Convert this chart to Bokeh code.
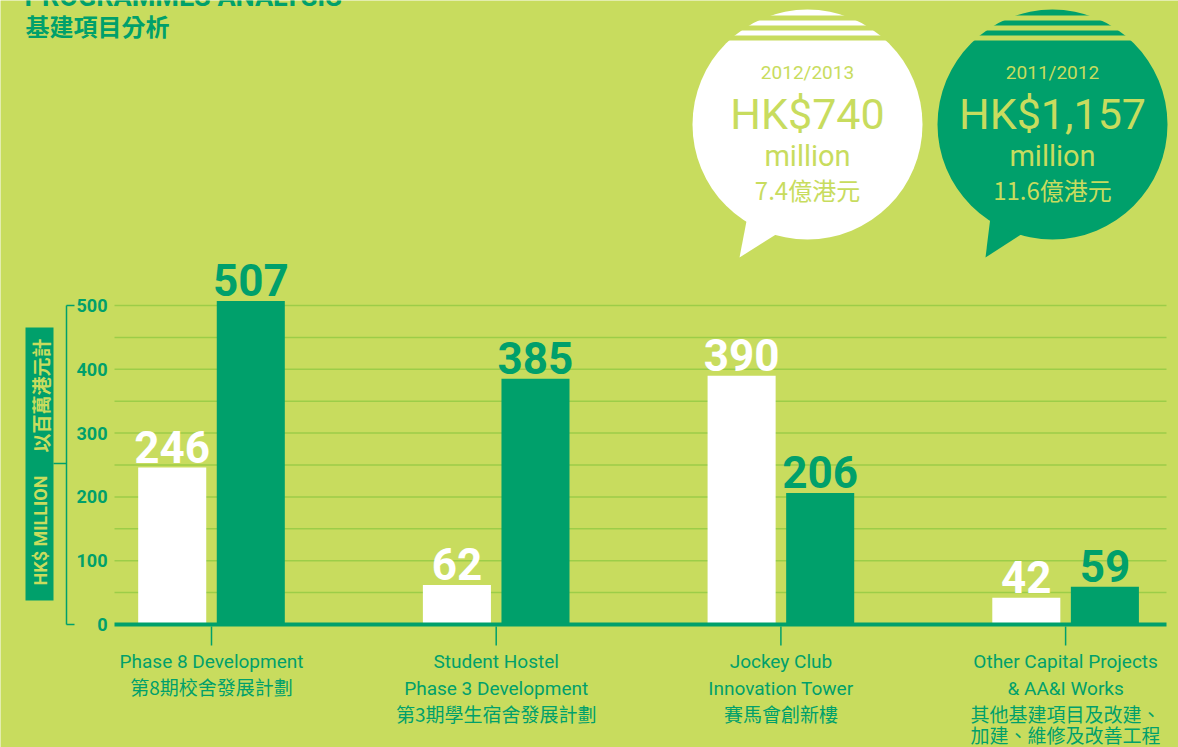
import numpy as np
from bokeh.plotting import figure
from bokeh.models import Range1d
from bokeh.core.properties import value
from bokeh.embed import file_html
from bokeh.resources import INLINE

# ---------------- data ----------------
categories = ["Phase 8 Development", "Student Hostel Phase 3 Development",
              "Jockey Club Innovation Tower", "Other Capital Projects & AA&I Works"]
cat_en = [["Phase 8 Development"],
          ["Student Hostel", "Phase 3 Development"],
          ["Jockey Club", "Innovation Tower"],
          ["Other Capital Projects", "& AA&I Works"]]
cat_zh = [["第8期校舍發展計劃"],
          ["第3期學生宿舍發展計劃"],
          ["賽馬會創新樓"],
          ["其他基建項目及改建、", "加建、維修及改善工程"]]
values_2012_13 = [246, 62, 390, 42]
values_2011_12 = [507, 385, 206, 59]
y_ticks = [0, 100, 200, 300, 400, 500]
grid_values = [50, 100, 150, 200, 250, 300, 350, 400, 450, 500]
totals = {"2012/2013": ("HK$740", "7.4億港元"), "2011/2012": ("HK$1,157", "11.6億港元")}

# ---------------- style ----------------
BG = "#c8dc5e"
GREEN = "#00a06b"
GRID = "#9ccd48"
WHITE = "#ffffff"
FONT = "Roboto"
CJK = "Noto Sans CJK TC"

W, H = 1178, 747
# pixel helpers (layout only)
XS, X0 = 284.7, 211.0
YS, Y0 = 0.638, 624.0
def dx(px): return (px - X0) / XS
def dy(py): return (Y0 - py) / YS

p = figure(width=W, height=H, x_range=Range1d(dx(0), dx(W)),
           y_range=Range1d(dy(H), dy(0)), output_backend="svg",
           toolbar_location=None, min_border=0)
p.axis.visible = False
p.grid.visible = False
p.outline_line_color = None
p.background_fill_color = BG
p.border_fill_color = BG

idx = np.arange(len(categories))
off = 0.138
bw = 0.239

# gridlines
p.segment(x0=[dx(114)] * len(grid_values), x1=[dx(1166)] * len(grid_values),
          y0=grid_values, y1=grid_values, line_color=GRID, line_width=1.5)

# bars
p.vbar(x=idx - off, top=values_2012_13, width=bw, bottom=0, fill_color=WHITE, line_color=None)
p.vbar(x=idx + off, top=values_2011_12, width=bw, bottom=0, fill_color=GREEN, line_color=None)

# baseline
p.segment(x0=[dx(114)], x1=[dx(1166)], y0=[0], y1=[0], line_color=GREEN, line_width=4)

# category ticks
p.segment(x0=idx, x1=idx, y0=[dy(626)] * 4, y1=[dy(645)] * 4, line_color=GREEN, line_width=1.5)

# value labels
lab_off = 5 / YS
p.text(x=idx - off, y=[v + lab_off for v in values_2012_13], text=[str(v) for v in values_2012_13],
       text_align="center", text_baseline="bottom", text_color=WHITE,
       text_font=value(FONT), text_font_size="44px", text_font_style="bold")
p.text(x=idx + off, y=[v + lab_off for v in values_2011_12], text=[str(v) for v in values_2011_12],
       text_align="center", text_baseline="bottom", text_color=GREEN,
       text_font=value(FONT), text_font_size="44px", text_font_style="bold")

# y tick labels
p.text(x=[dx(107)] * len(y_ticks), y=y_ticks, text=[str(t) for t in y_ticks],
       text_align="right", text_baseline="middle", text_color=GREEN,
       text_font=value(FONT), text_font_size="18px", text_font_style="bold")

# bracket
p.segment(x0=[dx(66), dx(66), dx(66), dx(53)], x1=[dx(66), dx(74), dx(74), dx(66)],
          y0=[dy(305), dy(305), dy(624), dy(463)], y1=[dy(624), dy(305), dy(624), dy(463)],
          line_color=GREEN, line_width=1.5)
# axis title box
p.quad(left=[dx(25)], right=[dx(53)], top=[dy(327)], bottom=[dy(600)], fill_color=GREEN, line_color=None)
p.text(x=[dx(40)], y=[dy(530)], text=["HK$ MILLION"],
       angle=np.pi / 2, text_align="center", text_baseline="middle", text_color=BG,
       text_font=value(FONT), text_font_size="18px", text_font_style="bold")
p.text(x=[dx(40)], y=[dy(395)], text=["以百萬港元計"],
       angle=np.pi / 2, text_align="center", text_baseline="middle", text_color=BG,
       text_font=value(CJK), text_font_size="19px", text_font_style="bold")

# category labels
for i in range(len(categories)):
    ys_en, ys_zh = [], []
    yy = 661
    for t in cat_en[i]:
        ys_en.append(yy)
        yy += 27
    yy = ys_en[-1] + 25
    for t in cat_zh[i]:
        ys_zh.append(yy)
        yy += 21
    p.text(x=[i] * len(ys_en), y=[dy(v) for v in ys_en], text=cat_en[i],
           text_align="center", text_baseline="middle", text_color=GREEN,
           text_font=value(FONT), text_font_size="19px")
    p.text(x=[i] * len(ys_zh), y=[dy(v) for v in ys_zh], text=cat_zh[i],
           text_align="center", text_baseline="middle", text_color=GREEN,
           text_font=value(CJK), text_font_size="19px")

# speech bubbles
bubbles = [("2012/2013", 807, WHITE, [(750, 200), (739, 257), (785, 228)]),
           ("2011/2012", 1052, GREEN, [(992, 200), (985, 257), (1030, 228)])]
for year, cx, col, tail in bubbles:
    p.patch(x=[dx(a) for a, b in tail], y=[dy(b) for a, b in tail], fill_color=col, line_color=None)
    p.scatter(x=[dx(cx)], y=[dy(124)], size=230, marker="circle", fill_color=col, line_color=None)
    p.quad(left=[dx(cx - 120)] * 3, right=[dx(cx + 120)] * 3,
           top=[dy(15), dy(25), dy(35)], bottom=[dy(20), dy(30), dy(40)],
           fill_color=BG, line_color=None)
    amount, zh = totals[year]
    p.text(x=[dx(cx)], y=[dy(72)], text=[year], text_align="center", text_baseline="middle",
           text_color=BG, text_font=value(FONT), text_font_size="19px")
    p.text(x=[dx(cx)], y=[dy(113)], text=[amount], text_align="center", text_baseline="middle",
           text_color=BG, text_font=value(FONT), text_font_size="43px")
    p.text(x=[dx(cx)], y=[dy(155)], text=["million"], text_align="center", text_baseline="middle",
           text_color=BG, text_font=value(FONT), text_font_size="29px")
    p.text(x=[dx(cx)], y=[dy(189)], text=[zh], text_align="center", text_baseline="middle",
           text_color=BG, text_font=value(CJK), text_font_size="24px")

# title
p.text(x=[dx(24)], y=[dy(-4)], text=["PROGRAMMES ANALYSIS"], text_align="left",
       text_baseline="alphabetic", text_color=GREEN, text_font=value(FONT),
       text_font_size="27px", text_font_style="bold")
p.text(x=[dx(25)], y=[dy(42)], text=["基建項目分析"], text_align="left", text_baseline="bottom",
       text_color=GREEN, text_font=value(CJK), text_font_size="24px", text_font_style="bold")

open("out.html", "w").write(file_html(p, INLINE))
